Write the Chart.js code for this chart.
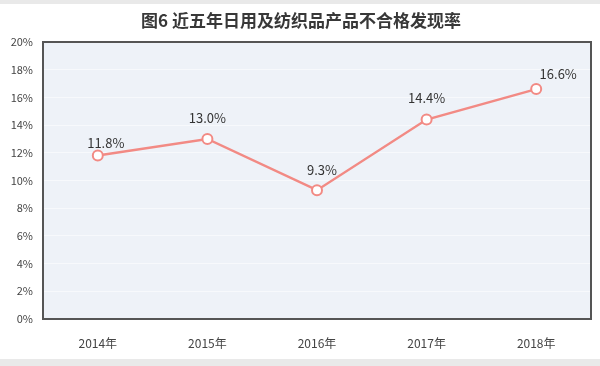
<!DOCTYPE html>
<html>
<head>
<meta charset="utf-8">
<script src="https://cdn.jsdelivr.net/npm/chart.js@4/dist/chart.umd.min.js"></script>
<style>
html,body{margin:0;padding:0;background:#fff;}
#wrap{width:600px;height:366px;position:relative;}
</style>
</head>
<body>
<div id="wrap"><canvas id="c" width="600" height="366"></canvas></div>
<script>
const titleText = "图6 近五年日用及纺织品产品不合格发现率";
const categories = ["2014年", "2015年", "2016年", "2017年", "2018年"];
const rates = [11.8, 13.0, 9.3, 14.4, 16.6];
const yTicks = [0, 2, 4, 6, 8, 10, 12, 14, 16, 18, 20];

const cjk = '"Noto Sans CJK SC", "Noto Sans", sans-serif';

const decor = {
  id: 'decor',
  beforeDraw(chart) {
    const {ctx, chartArea: a} = chart;
    ctx.save();
    ctx.fillStyle = '#fff';
    ctx.fillRect(0, 0, chart.width, chart.height);
    ctx.fillStyle = '#e9e9e9';
    ctx.fillRect(0, 0, chart.width, 4);
    ctx.fillRect(0, 359, chart.width, 7);
    ctx.fillStyle = '#eef2f8';
    ctx.fillRect(a.left, a.top, a.right - a.left, a.bottom - a.top);
    ctx.restore();
  },
  afterDatasetsDraw(chart) {
    const {ctx, chartArea: a} = chart;
    ctx.save();
    ctx.strokeStyle = '#555';
    ctx.lineWidth = 2;
    ctx.strokeRect(a.left, a.top, a.right - a.left, a.bottom - a.top);
    // title
    ctx.fillStyle = '#383838';
    ctx.font = '600 17px ' + cjk;
    ctx.textAlign = 'center';
    ctx.textBaseline = 'middle';
    ctx.fillText(titleText, 301, 21);
    // data labels
    const meta = chart.getDatasetMeta(0);
    const dx = [8, 0, 5, 0, 22];
    const dy = [-13, -21, -20, -21, -15];
    ctx.font = '13px ' + cjk;
    ctx.fillStyle = '#333';
    meta.data.forEach((pt, i) => {
      ctx.fillText(rates[i].toFixed(1) + '%', pt.x + dx[i], pt.y + dy[i]);
    });
    ctx.restore();
  }
};

new Chart(document.getElementById('c'), {
  type: 'line',
  data: {
    labels: categories,
    datasets: [{
      data: rates,
      borderColor: '#f28a84',
      borderWidth: 2.5,
      pointRadius: 5,
      pointBorderWidth: 2,
      pointBackgroundColor: '#ffffff',
      pointBorderColor: '#f28a84',
      tension: 0
    }]
  },
  options: {
    responsive: false,
    animation: false,
    devicePixelRatio: 1,
    layout: {padding: {top: 42, right: 9, left: 0, bottom: 0}},
    plugins: {legend: {display: false}, title: {display: false}, tooltip: {enabled: false}},
    scales: {
      x: {
        offset: true,
        grid: {display: false},
        border: {display: false},
        ticks: {color: '#444', font: {size: 12, family: cjk}, padding: 9},
        afterFit(s) { s.height = 47; }
      },
      y: {
        min: 0, max: 20,
        afterBuildTicks(s) { s.ticks = yTicks.map(v => ({value: v})); },
        grid: {color: '#f7f9fc', lineWidth: 1, drawTicks: false},
        border: {display: false},
        ticks: {color: '#444', font: {size: 11, family: cjk}, padding: 10, callback: v => v + '%'},
        afterFit(s) { s.width = 43; }
      }
    }
  },
  plugins: [decor]
});
</script>
</body>
</html>
